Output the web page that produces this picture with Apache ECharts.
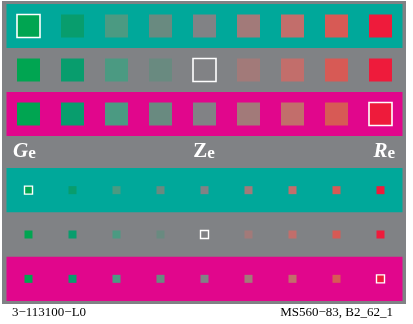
<!DOCTYPE html>
<html><head><meta charset="utf-8">
<script src="https://cdn.jsdelivr.net/npm/echarts@6/dist/echarts.min.js"></script>
<style>html,body{margin:0;padding:0;background:#fff}#c{width:413px;height:324px}</style>
</head><body><div id="c"></div>
<script>
const columns = [0,1,2,3,4,5,6,7,8];
const rows = [0,1,2];
const swatchColors = ['#00a551','#089d6d','#4b9a82','#698a80','#818285','#a27a79','#c26e6b','#d75a55','#ee1b3b'];
const rowBackgrounds = ['#00a89a', null, '#e1068c'];
const highlighted = [[0,0],[4,1],[8,2]]; // [column,row]
const sectionLabels = ['G', 'Z', 'R'];
const footerLeft = '3\u2212113100\u2212L0';
const footerRight = 'MS560\u221283, B2_62_1';

const chart = echarts.init(document.getElementById('c'), null, {renderer:'canvas'});
function isHi(c,r){return highlighted.some(h=>h[0]===c&&h[1]===r);}
function pts(bw){
  const d=[];
  rows.forEach(r=>columns.forEach(c=>{
    const o={value:[c,r],itemStyle:{color:swatchColors[c],opacity:1}};
    if(isHi(c,r)) {o.itemStyle.borderColor='#ffffff';o.itemStyle.borderWidth=bw;}
    d.push(o);
  }));
  return d;
}
function bands(){
  const a=[];
  rows.forEach(r=>{ if(rowBackgrounds[r]) a.push([{xAxis:-0.5,yAxis:r-0.5,itemStyle:{color:rowBackgrounds[r],opacity:1}},{xAxis:8.5,yAxis:r+0.5}]); });
  return a;
}
const grids=[{left:6.5,top:4,width:396,height:132},{left:6.5,top:168,width:396,height:133}];
const xA=[0,1].map(i=>({type:'value',gridIndex:i,min:-0.5,max:8.5,show:false}));
const yA=[0,1].map(i=>({type:'value',gridIndex:i,min:-0.5,max:2.5,inverse:true,show:false}));
const sizes=[23,8];
const borderW=[1.6,1.4];
const series=[];
[0,1].forEach(i=>{
  series.push({type:'scatter',xAxisIndex:i,yAxisIndex:i,symbol:'rect',symbolSize:sizes[i],
    itemStyle:{opacity:1},
    data:pts(borderW[i]),
    silent:true,animation:false,
    markArea:{silent:true,data:bands(),itemStyle:{opacity:1}}});
});
const labelPos=[{x:13,align:'left'},{x:204,align:'center'},{x:395,align:'right'}];
chart.setOption({
  backgroundColor:'#ffffff',
  animation:false,
  grid:grids, xAxis:xA, yAxis:yA, series:series,
  graphic:[
    {type:'rect',shape:{x:2,y:1,width:404,height:303},style:{fill:'#808285'},z:-10,silent:true},
    ...sectionLabels.map((t,i)=>({type:'text',x:labelPos[i].x,y:162,silent:true,z:10,
      style:{text:'{g|'+t+'}{s|e}',align:labelPos[i].align,verticalAlign:'bottom',
        rich:{g:{fontFamily:'Liberation Serif',fontSize:21,fontWeight:'bold',fontStyle:(i===1?'normal':'italic'),fill:'#fff',color:'#fff'},
              s:{fontFamily:'Liberation Serif',fontSize:17,fontWeight:'bold',fill:'#fff',color:'#fff',padding:[4,0,0,0]}}}})),
    {type:'text',x:12,y:313,silent:true,style:{text:footerLeft,font:'13px "Liberation Serif"',fill:'#000',verticalAlign:'middle'}},
    {type:'text',x:393,y:313,silent:true,style:{text:footerRight,font:'13px "Liberation Serif"',fill:'#000',align:'right',verticalAlign:'middle'}}
  ]
});
</script></body></html>
